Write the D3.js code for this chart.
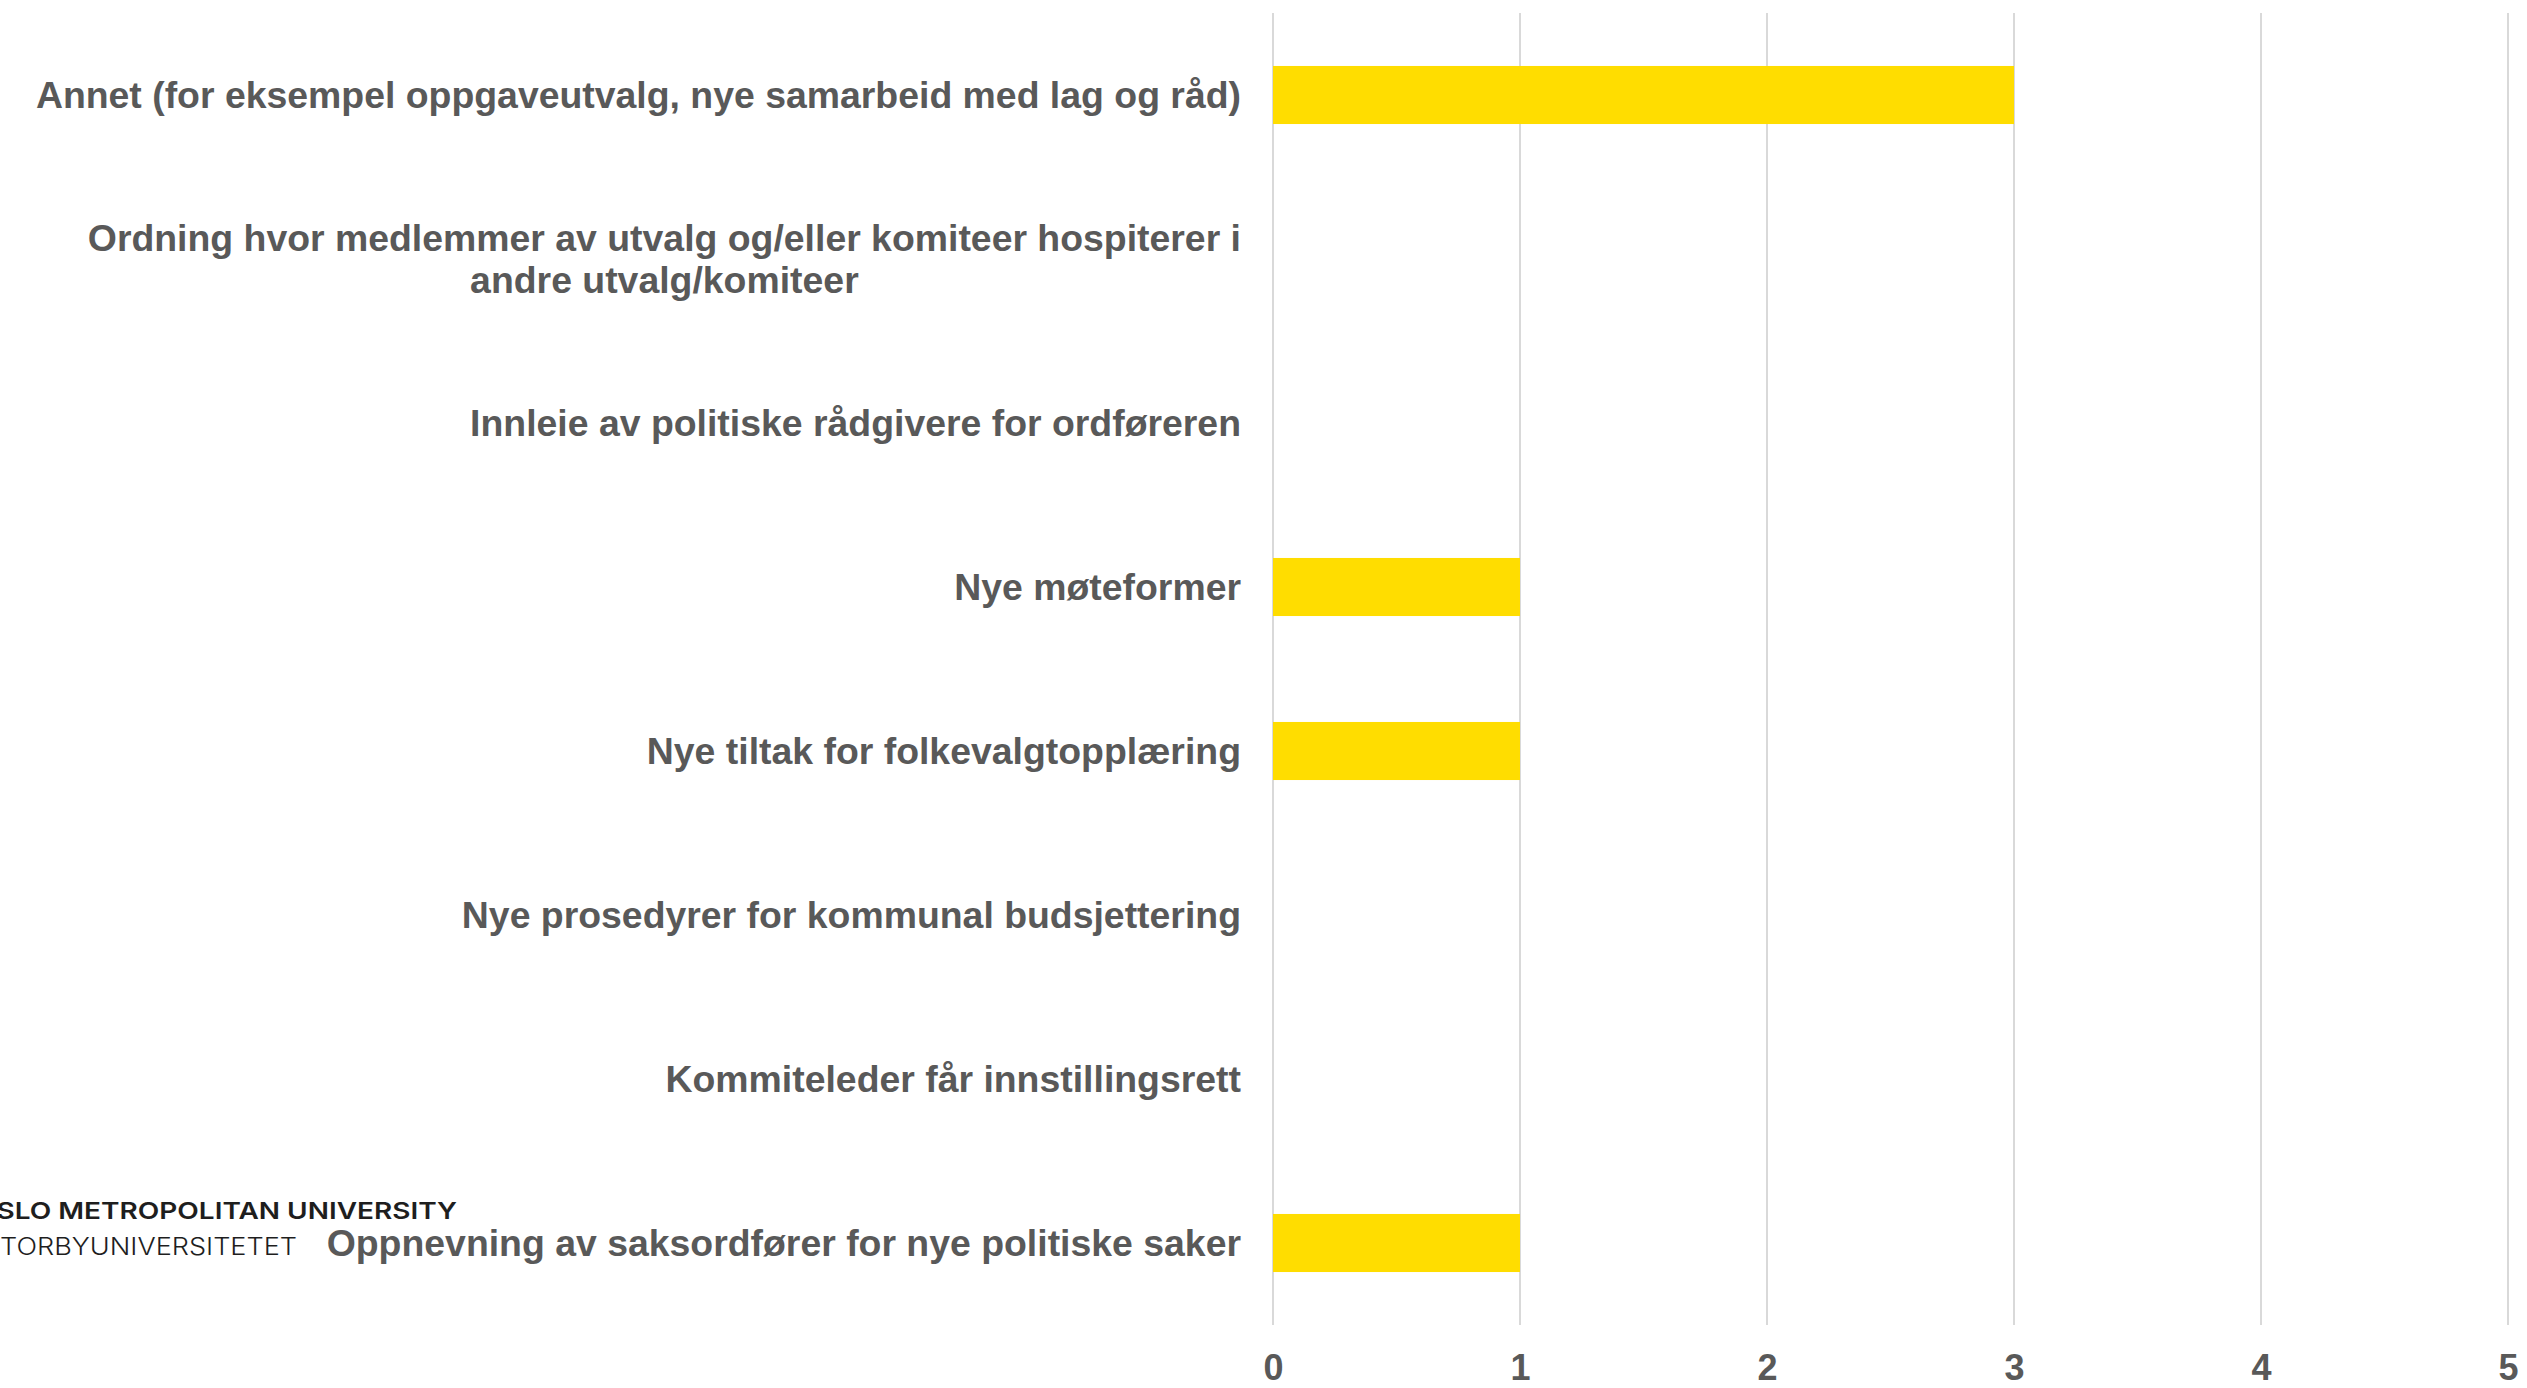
<!DOCTYPE html>
<html>
<head>
<meta charset="utf-8">
<script src="https://cdn.jsdelivr.net/npm/d3@7"></script>
<style>
  html, body { margin: 0; padding: 0; background: #ffffff; overflow: hidden; }
  svg { display: block; }
</style>
</head>
<body>
<svg id="chart" width="2527" height="1388"></svg>
<script>
// ---- data ----
const categories = [
  "Annet (for eksempel oppgaveutvalg, nye samarbeid med lag og råd)",
  "Ordning hvor medlemmer av utvalg og/eller komiteer hospiterer i andre utvalg/komiteer",
  "Innleie av politiske rådgivere for ordføreren",
  "Nye møteformer",
  "Nye tiltak for folkevalgtopplæring",
  "Nye prosedyrer for kommunal budsjettering",
  "Kommiteleder får innstillingsrett",
  "Oppnevning av saksordfører for nye politiske saker"
];
const values = [3, 0, 0, 1, 1, 0, 0, 1];
const xTicks = [0, 1, 2, 3, 4, 5];
const logoLines = ["OSLO METROPOLITAN UNIVERSITY", "STORBYUNIVERSITETET"];

// ---- layout ----
const svg = d3.select("#chart");
const plotLeft = 1273, plotRight = 2508, plotTop = 13, plotBottom = 1325;
const textColor = "#595959";
const fontFamily = "'Liberation Sans', Arial, sans-serif";
const fontSize = 37.4;

const x = d3.scaleLinear().domain([0, 5]).range([plotLeft, plotRight]);
const y = d3.scaleBand().domain(categories).range([plotTop, plotBottom])
  .paddingInner(0.646).paddingOuter(0.323);

// gridlines
svg.append("g").selectAll("line").data(xTicks).join("line")
  .attr("x1", d => x(d)).attr("x2", d => x(d))
  .attr("y1", plotTop).attr("y2", plotBottom)
  .attr("stroke", "#d9d9d9").attr("stroke-width", 2);

// bars
svg.append("g").selectAll("rect").data(categories).join("rect")
  .attr("x", x(0))
  .attr("y", d => y(d))
  .attr("width", (d, i) => x(values[i]) - x(0))
  .attr("height", y.bandwidth())
  .attr("fill", "#FFDD00");

// x axis tick labels
const xAxis = d3.axisBottom(x).tickValues(xTicks).tickSize(0).tickPadding(0).tickFormat(d3.format("d"));
const xg = svg.append("g").attr("transform", `translate(0,${plotBottom})`).call(xAxis);
xg.select(".domain").remove();
xg.selectAll("text")
  .attr("y", 55).attr("dy", 0)
  .attr("fill", textColor)
  .style("font-family", fontFamily).style("font-weight", "bold").style("font-size", "36px");

// y category labels with wrapping
const labelRight = 1241;
const maxW = 1225;
const lineH = 42;
const lg = svg.append("g");
categories.forEach((c, i) => {
  const cy = y(c) + y.bandwidth() / 2;
  const t = lg.append("text")
    .attr("fill", textColor)
    .style("font-family", fontFamily).style("font-weight", "bold").style("font-size", fontSize + "px");
  const words = c.split(" ");
  const lines = [];
  let cur = [];
  const probe = t.append("tspan");
  words.forEach(w => {
    const test = cur.concat([w]).join(" ");
    probe.text(test);
    if (probe.node().getComputedTextLength() > maxW && cur.length) {
      lines.push(cur.join(" "));
      cur = [w];
    } else cur = cur.concat([w]);
  });
  lines.push(cur.join(" "));
  probe.text(lines[0]);
  const w0 = probe.node().getComputedTextLength();
  probe.remove();
  if (lines.length === 1) {
    t.attr("x", labelRight).attr("y", cy + 13).attr("text-anchor", "end").text(lines[0]);
  } else {
    const cx = labelRight - w0 / 2;
    const startY = cy + 13 - (lines.length - 1) * lineH / 2;
    t.attr("text-anchor", "middle");
    lines.forEach((ln, k) => {
      t.append("tspan").attr("x", cx).attr("y", startY + k * lineH).text(ln);
    });
  }
});

// logo text (partially cut at the left edge, as in the original slide)
svg.append("text")
  .attr("x", -25).attr("y", 1219)
  .attr("textLength", 482).attr("lengthAdjust", "spacingAndGlyphs")
  .attr("fill", "#1e1e1e")
  .style("font-family", "Inter, 'Open Sans', sans-serif").style("font-weight", 600).style("font-size", "23px")
  .text(logoLines[0]);
svg.append("text")
  .attr("x", -17).attr("y", 1255)
  .attr("textLength", 314).attr("lengthAdjust", "spacingAndGlyphs")
  .attr("fill", "#1e1e1e")
  .style("font-family", "Inter, 'Open Sans', sans-serif").style("font-weight", 300).style("font-size", "24px")
  .text(logoLines[1]);
</script>
</body>
</html>
